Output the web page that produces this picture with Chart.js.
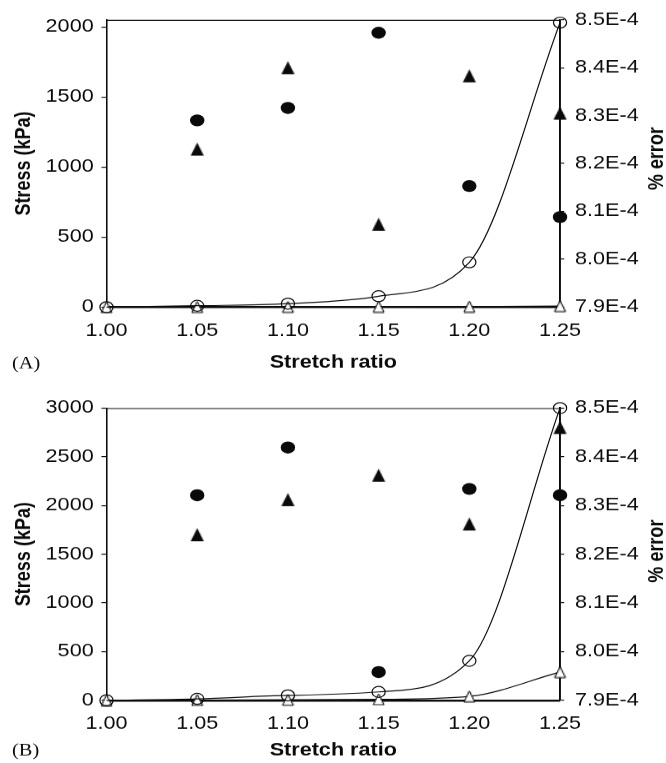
<!DOCTYPE html>
<html>
<head>
<meta charset="utf-8">
<script src="https://cdn.jsdelivr.net/npm/chart.js@4.4.1/dist/chart.umd.min.js"></script>
<style>
  body { margin: 0; background: #fff; }
  /* the original figure is stretched sideways, so each panel is drawn narrow and widened */
  .panel { width: 555px; transform: scaleX(1.2); transform-origin: 0 0; }
  #wrapA { height: 381px; }
  #wrapB { height: 382px; }
</style>
</head>
<body>
<div class="panel" id="wrapA"><canvas id="chartA"></canvas></div>
<div class="panel" id="wrapB"><canvas id="chartB"></canvas></div>
<script>
// shared
const stretch = [1.00, 1.05, 1.10, 1.15, 1.20, 1.25];
const xTicks = [1.00, 1.05, 1.10, 1.15, 1.20, 1.25];
const errTicks = [7.9e-4, 8.0e-4, 8.1e-4, 8.2e-4, 8.3e-4, 8.4e-4, 8.5e-4];
const errTickLabels = ['7.9E-4', '8.0E-4', '8.1E-4', '8.2E-4', '8.3E-4', '8.4E-4', '8.5E-4'];

// (A)
const stressTicksA = [0, 500, 1000, 1500, 2000];
const stressCircleA = [0, 10, 25, 78, 320, 2030];
const stressTriangleA = [0, 1, 2, 3, 4, 8];
const errorCircleA = [null, 8.29e-4, 8.316e-4, 8.473e-4, 8.153e-4, 8.088e-4];
const errorTriangleA = [null, 8.23e-4, 8.40e-4, 8.073e-4, 8.383e-4, 8.305e-4];

// (B)
const stressTicksB = [0, 500, 1000, 1500, 2000, 2500, 3000];
const stressCircleB = [0, 15, 50, 86, 405, 3000];
const stressTriangleB = [0, 2, 5, 10, 40, 290];
const errorCircleB = [null, 8.321e-4, 8.419e-4, 7.958e-4, 8.334e-4, 8.321e-4];
const errorTriangleB = [null, 8.24e-4, 8.312e-4, 8.362e-4, 8.262e-4, 8.46e-4];

const FONT = '"Liberation Sans", Arial, Helvetica, sans-serif';
const INK = '#0a0a0a';

function triangleMarker(w, h, filled) {
  const c = document.createElement('canvas');
  c.width = w + 2;
  c.height = h + 2;
  const g = c.getContext('2d');
  g.beginPath();
  g.moveTo(w / 2 + 1, 1);
  g.lineTo(w + 1, h + 1);
  g.lineTo(1, h + 1);
  g.closePath();
  if (filled) {
    g.fillStyle = INK;
    g.fill();
  } else {
    g.fillStyle = '#fff';
    g.fill();
    g.strokeStyle = INK;
    g.lineWidth = 1;
    g.stroke();
  }
  return c;
}
const filledTri = triangleMarker(11, 13, true);
const openTri = triangleMarker(9, 11, false);

const toPoints = (ys) => stretch.map((x, i) => ({x: x, y: ys[i]})).filter(p => p.y !== null);

const panelText = {
  id: 'panelText',
  afterDraw(chart, args, o) {
    const {ctx, chartArea} = chart;
    ctx.save();
    ctx.strokeStyle = INK;
    ctx.lineWidth = 1;
    ctx.beginPath();
    ctx.moveTo(chartArea.left, chartArea.top + 0.5);
    ctx.lineTo(chartArea.right, chartArea.top + 0.5);
    ctx.stroke();

    ctx.fillStyle = INK;
    ctx.font = 'bold 18px ' + FONT;
    ctx.textAlign = 'center';
    ctx.textBaseline = 'middle';
    ctx.translate(o.errX, o.errY);
    ctx.rotate(-Math.PI / 2);
    ctx.fillText('% error', 0, 0);
    ctx.restore();

    ctx.save();
    ctx.fillStyle = INK;
    ctx.font = '17px "Liberation Serif", "Times New Roman", serif';
    ctx.textAlign = 'left';
    ctx.textBaseline = 'middle';
    ctx.fillText(o.label, o.labelX, o.labelY);
    ctx.restore();
  }
};

function makeChart(id, p) {
  return new Chart(document.getElementById(id), {
    type: 'line',
    data: {
      datasets: [
        {
          data: toPoints(p.stressCircle),
          yAxisID: 'y',
          borderColor: INK,
          borderWidth: 1,
          cubicInterpolationMode: 'monotone',
          pointStyle: 'circle',
          pointRadius: 5.5,
          pointBorderWidth: 1,
          pointBackgroundColor: 'rgba(255,255,255,0)',
          pointBorderColor: INK,
          clip: false
        },
        {
          data: toPoints(p.stressTriangle),
          yAxisID: 'y',
          borderColor: INK,
          borderWidth: 1,
          cubicInterpolationMode: 'monotone',
          pointStyle: openTri,
          clip: false
        },
        {
          data: toPoints(p.errorCircle),
          yAxisID: 'y2',
          showLine: false,
          pointStyle: 'circle',
          pointRadius: 6,
          pointBorderWidth: 0,
          pointBackgroundColor: INK,
          clip: false
        },
        {
          data: toPoints(p.errorTriangle),
          yAxisID: 'y2',
          showLine: false,
          pointStyle: filledTri,
          clip: false
        }
      ]
    },
    options: {
      responsive: true,
      maintainAspectRatio: false,
      animation: false,
      devicePixelRatio: 1.2,
      layout: { padding: { top: p.top, left: 0, right: 0, bottom: 0 } },
      plugins: {
        legend: { display: false },
        tooltip: { enabled: false },
        panelText: { label: p.label, labelX: 10, labelY: p.labelY, errX: 547.5, errY: p.errY }
      },
      scales: {
        x: {
          type: 'linear',
          min: 1.00,
          max: 1.25,
          afterBuildTicks: (s) => { s.ticks = xTicks.map(v => ({value: v})); },
          afterFit: (s) => { s.height = p.xHeight; },
          grid: { drawOnChartArea: false, drawTicks: false },
          border: { display: true, color: INK, width: 2 },
          ticks: {
            color: INK,
            padding: 13,
            maxRotation: 0,
            font: { family: FONT, size: 18 },
            callback: (v) => v.toFixed(2)
          },
          title: {
            display: true,
            text: 'Stretch ratio',
            color: INK,
            font: { family: FONT, size: 18, weight: 'bold' },
            padding: { top: 0, bottom: p.titlePad }
          }
        },
        y: {
          type: 'linear',
          position: 'left',
          min: 0,
          max: p.stressMax,
          afterBuildTicks: (s) => { s.ticks = p.stressTicks.map(v => ({value: v})); },
          afterFit: (s) => { s.width = 88.75; },
          grid: { drawOnChartArea: false, drawTicks: true, tickLength: 4.2, color: INK },
          border: { display: true, color: INK, width: 1.3 },
          ticks: {
            color: INK,
            padding: 6.5,
            font: { family: FONT, size: 18 },
            callback: (v) => String(v)
          },
          title: {
            display: true,
            text: 'Stress (kPa)',
            color: INK,
            font: { family: FONT, size: 18, weight: 'bold' },
            padding: { top: 9, bottom: 0 }
          }
        },
        y2: {
          type: 'linear',
          position: 'right',
          min: 7.9e-4,
          max: 8.5e-4,
          afterBuildTicks: (s) => { s.ticks = errTicks.map(v => ({value: v})); },
          afterFit: (s) => { s.width = 88.3; },
          grid: { drawOnChartArea: false, drawTicks: true, tickLength: 3.5, color: INK },
          border: { display: true, color: INK, width: 1.6 },
          ticks: {
            color: INK,
            padding: 9,
            font: { family: FONT, size: 18 },
            callback: (v, i) => errTickLabels[i]
          }
        }
      }
    },
    plugins: [panelText]
  });
}

makeChart('chartA', {
  stressCircle: stressCircleA, stressTriangle: stressTriangleA,
  errorCircle: errorCircleA, errorTriangle: errorTriangleA,
  stressTicks: stressTicksA, stressMax: 2050,
  top: 17, xHeight: 74, titlePad: 8, label: '(A)', labelY: 364, errY: 158.5
});

makeChart('chartB', {
  stressCircle: stressCircleB, stressTriangle: stressTriangleB,
  errorCircle: errorCircleB, errorTriangle: errorTriangleB,
  stressTicks: stressTicksB, stressMax: 3000,
  top: 27, xHeight: 63, titlePad: 2, label: '(B)', labelY: 370, errY: 170
});
</script>
</body>
</html>
